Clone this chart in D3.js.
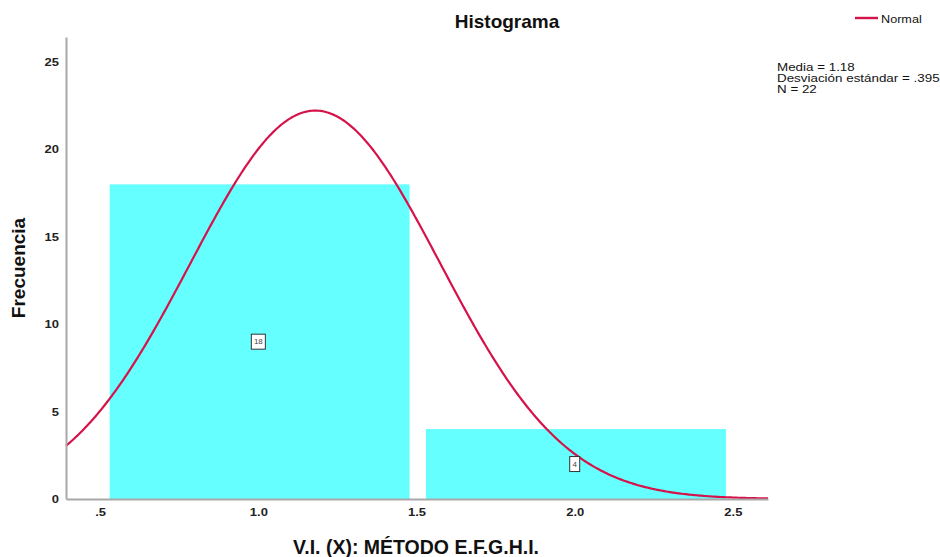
<!DOCTYPE html>
<html>
<head>
<meta charset="utf-8">
<script src="https://cdn.jsdelivr.net/npm/d3@7"></script>
<style>
body{margin:0;background:#fff;}
text{font-family:"Liberation Sans",Arial,sans-serif;}
</style>
</head>
<body>
<svg id="chart" width="940" height="557"></svg>
<script>
// Data
const binStarts = [0.5, 1.5];
const binEnds = [1.5, 2.5];
const counts = [18, 4];
const mean = 1.18;
const sd = 0.395;
const n = 22;
const xTicks = [0.5, 1.0, 1.5, 2.0, 2.5];
const xTickLabels = [".5", "1.0", "1.5", "2.0", "2.5"];
const yTicks = [0, 5, 10, 15, 20, 25];
const statsLines = ["Media = 1.18", "Desviación estándar = .395", "N = 22"];
const title = "Histograma";
const xTitle = "V.I. (X): MÉTODO E.F.G.H.I.";
const yTitle = "Frecuencia";

const svg = d3.select("#chart");
const pLeft = 66, pRight = 768, pTop = 37, pBottom = 499;
const x = d3.scaleLinear().domain([0.392, 2.611]).range([pLeft, pRight]);
const y = d3.scaleLinear().domain([0, 26.43]).range([pBottom, pTop]);

const bins = counts.map((c, i) => ({x0: binStarts[i], x1: binEnds[i], c}));
const gapL = 0.03, gapR = 0.022;

svg.append("g").selectAll("rect").data(bins).join("rect")
  .attr("x", d => x(d.x0 + gapL))
  .attr("width", d => x(d.x1 - gapR) - x(d.x0 + gapL))
  .attr("y", d => y(d.c))
  .attr("height", d => y(0) - y(d.c))
  .attr("fill", "#66ffff");

// normal curve
const binWidth = 1;
const xs = d3.range(0, 401).map(i => 0.392 + i * (2.611 - 0.392) / 400);
const pdf = v => n * binWidth / (sd * Math.sqrt(2 * Math.PI)) * Math.exp(-0.5 * ((v - mean) / sd) ** 2);
svg.append("path")
  .datum(xs)
  .attr("d", d3.line().x(d => x(d)).y(d => y(pdf(d))))
  .attr("fill", "none")
  .attr("stroke", "#d6124a")
  .attr("stroke-width", 2.2);

// axes
const xAxis = svg.append("g").attr("transform", `translate(0,${pBottom})`)
  .call(d3.axisBottom(x).tickValues(xTicks).tickFormat((d, i) => xTickLabels[i]).tickSize(0).tickPadding(9));
const yAxis = svg.append("g").attr("transform", `translate(${pLeft},0)`)
  .call(d3.axisLeft(y).tickValues(yTicks).tickSize(0).tickPadding(6));
[xAxis, yAxis].forEach(a => {
  a.select(".domain").attr("stroke", "#a8a8a8").attr("stroke-width", 2);
  a.selectAll("text").attr("font-size", 11).attr("font-weight", "bold").attr("fill", "#222")
    .attr("font-family", "Liberation Sans, Arial, sans-serif")
    .attr("transform", "scale(1.18,1)");
});

// bar labels
const lab = svg.append("g").selectAll("g").data(bins).join("g")
  .attr("transform", d => `translate(${x((d.x0 + d.x1) / 2)},${y(d.c / 2)})`);
lab.append("rect").attr("x", d => d.c >= 10 ? -7 : -5).attr("y", -7.5)
  .attr("width", d => d.c >= 10 ? 14 : 10).attr("height", 15)
  .attr("fill", "#fff").attr("stroke", "#333").attr("stroke-width", 1);
lab.append("text").attr("text-anchor", "middle").attr("dy", "0.35em")
  .attr("font-size", 8).attr("fill", "#444").text(d => d.c);

// titles
svg.append("text").attr("x", 507).attr("y", 28).attr("text-anchor", "middle")
  .attr("font-size", 19).attr("font-weight", "bold").attr("fill", "#111").text(title);
svg.append("text").attr("x", 416).attr("y", 554).attr("text-anchor", "middle")
  .attr("font-size", 19.5).attr("font-weight", "bold").attr("fill", "#111").text(xTitle);
svg.append("text").attr("transform", "translate(25,268) rotate(-90)").attr("text-anchor", "middle")
  .attr("font-size", 19).attr("font-weight", "bold").attr("fill", "#111").text(yTitle);

// legend
svg.append("line").attr("x1", 855).attr("x2", 878).attr("y1", 18).attr("y2", 18)
  .attr("stroke", "#d6124a").attr("stroke-width", 2.4);
svg.append("text").attr("transform", "translate(881,23) scale(1.15,1)")
  .attr("font-size", 11).attr("fill", "#111").text("Normal");

svg.append("g").attr("transform", "translate(777,0) scale(1.217,1)")
  .selectAll("text").data(statsLines).join("text")
  .attr("x", 0).attr("y", (d, i) => 71.5 + i * 11)
  .attr("font-size", 11).attr("fill", "#111").text(d => d);
</script>
</body>
</html>
